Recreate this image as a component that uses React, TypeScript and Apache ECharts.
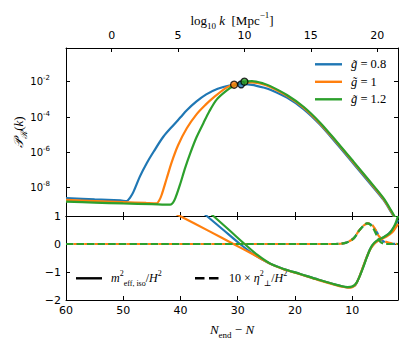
import React, { useEffect, useRef } from 'react';
import * as echarts from 'echarts';

const BLUE = '#1f77b4';
const ORANGE = '#ff7f0e';
const GREEN = '#2ca02c';

// ---- axes ----
const nTicks = [60, 50, 40, 30, 20, 10];
const logKTicks = [0, 5, 10, 15, 20];
const logPTicks = [-8, -6, -4, -2];
const logKAtLeft = -3.44;
const logKAtRight = 21.57;

// ---- top panel: log10 P_R(k) vs N_end - N ----
const nBlueP = [60, 55, 50.5, 49.4, 48.8, 48.2, 47.1, 45.9, 44.7, 43.0, 41.2, 40.0, 38.9, 37.2, 35.5, 33.5, 31.3, 29.5, 27.5, 25.5, 24.3, 21.4, 18.5, 15.6, 12.7, 9.77, 6.85, 4.53, 3.06, 2.4];
const logPBlue = [-8.6, -8.67, -8.73, -8.76, -8.57, -8.23, -7.38, -6.62, -5.97, -5.12, -4.45, -4.02, -3.62, -3.12, -2.72, -2.4, -2.2, -2.12, -2.18, -2.33, -2.45, -2.9, -3.55, -4.44, -5.52, -6.65, -7.78, -8.7, -9.47, -9.85];

const nOrangeP = [60, 55, 50, 46, 44.15, 43.7, 43.3, 42.4, 41.5, 40.4, 38.9, 37.2, 35.6, 34.25, 31.9, 30.6, 29, 27.5, 25.5, 24.3, 21.4, 18.5, 15.6, 12.7, 9.77, 6.85, 4.53, 3.06, 2.4];
const logPOrange = [-8.7, -8.76, -8.82, -8.87, -8.89, -8.72, -8.42, -7.47, -6.53, -5.59, -4.64, -3.85, -3.3, -2.9, -2.32, -2.16, -2.06, -2.04, -2.15, -2.3, -2.8, -3.47, -4.38, -5.45, -6.58, -7.72, -8.65, -9.42, -9.8];

const nGreenP = [60, 55, 50, 45, 41.8, 41.3, 40.9, 40.1, 39.2, 38.3, 37.2, 36.0, 35.0, 33.65, 31.9, 30.5, 29, 27.5, 25.5, 24.3, 21.4, 18.5, 15.6, 12.7, 9.77, 6.85, 4.53, 3.06, 2.4];
const logPGreen = [-8.8, -8.85, -8.9, -8.94, -8.97, -8.85, -8.6, -7.85, -6.9, -6.06, -5.15, -4.35, -3.7, -3.0, -2.49, -2.2, -2.0, -1.97, -2.1, -2.25, -2.75, -3.42, -4.32, -5.4, -6.53, -7.67, -8.6, -9.37, -9.75];

// peak markers
const markerN = [29.4, 30.63, 28.83];
const markerLogP = [-2.15, -2.17, -2.0];

// ---- bottom panel: m_eff,iso^2/H^2 (solid) ----
const nBlueM = [37, 35.4, 32.5, 29.6, 27, 24.5, 22, 19.1, 16, 13.3, 11.8, 10.7, 10.0, 9.4, 8.55, 7.7, 6.8, 5.9, 4.8, 3.6, 2.7, 2.0];
const mBlue = [1.28, 1.0, 0.5, 0.0, -0.4, -0.69, -0.89, -1.07, -1.27, -1.43, -1.51, -1.55, -1.53, -1.45, -1.07, -0.6, -0.15, 0.07, 0.2, 0.37, 0.6, 0.86];
const nOrangeM = [42, 40.1, 35, 30.75, 27.5, 24.3, 22, 19.1, 16, 13.3, 11.8, 10.6, 10.0, 9.5, 8.8, 7.9, 7.0, 6.1, 5.2, 4.0, 3.0, 2.0];
const mOrange = [1.2, 1.0, 0.46, 0.0, -0.35, -0.71, -0.9, -1.08, -1.28, -1.44, -1.52, -1.56, -1.54, -1.48, -1.2, -0.7, -0.25, 0.02, 0.15, 0.27, 0.42, 0.72];
const nGreenM = [36, 34.25, 31.5, 28.8, 26.5, 24.3, 22, 19.1, 16, 13.3, 11.8, 10.8, 10.0, 9.2, 8.3, 7.45, 6.55, 5.7, 4.53, 3.36, 2.5, 2.0];
const mGreen = [1.32, 1.0, 0.5, 0.0, -0.4, -0.7, -0.89, -1.07, -1.27, -1.43, -1.51, -1.54, -1.52, -1.37, -0.95, -0.48, -0.06, 0.12, 0.24, 0.41, 0.71, 1.0];

// ---- bottom panel: 10 x eta_perp^2/H^2 (dashed) ----
const nBlueE = [60, 13, 12, 11, 10, 9.5, 8.9, 8.0, 7.3, 6.8, 6.1, 5.5, 4.9, 4.2, 3.5, 2.0];
const eBlue = [0, 0, 0.01, 0.05, 0.16, 0.26, 0.45, 0.66, 0.74, 0.7, 0.55, 0.35, 0.15, 0.05, 0.01, 0];
const nOrangeE = [60, 13, 12, 11, 10, 9.5, 8.9, 8.0, 7.2, 6.6, 6.0, 5.4, 4.5, 3.5, 2.7, 2.0];
const eOrange = [0, 0, 0.01, 0.05, 0.16, 0.26, 0.45, 0.66, 0.74, 0.7, 0.53, 0.3, 0.12, 0.04, 0.01, 0];
const nGreenE = [60, 13, 12, 11, 10, 9.5, 8.9, 8.0, 7.4, 6.9, 6.3, 5.7, 5.1, 4.5, 4.0, 2.0];
const eGreen = [0, 0, 0.01, 0.05, 0.16, 0.26, 0.45, 0.66, 0.74, 0.7, 0.55, 0.3, 0.08, 0.01, 0, 0];

const legendLabels = ['0.8', '1', '1.2'];
const legendColors = [BLUE, ORANGE, GREEN];

const SANS = '"DejaVu Sans", sans-serif';
const SERIF = '"Liberation Serif", "DejaVu Serif", serif';

const pairs = (xs: number[], ys: number[]) => xs.map((x, i) => [x, ys[i]]);

const tickStyle = { show: true, inside: true, length: 4, lineStyle: { color: '#000', width: 1 } };
const lineAxis = { show: true, onZero: false, lineStyle: { color: '#000', width: 1 } };
const noSplit = { show: false };
const tickFont = { color: '#000', fontFamily: SANS, fontSize: 11 };

function buildOption() {
  const lineSeries = (data: number[][], color: string, xi: number, yi: number, dashed = false, offset = 0) => ({
    type: 'line',
    xAxisIndex: xi,
    yAxisIndex: yi,
    data,
    showSymbol: false,
    smooth: 0.3,
    clip: true,
    lineStyle: dashed
      ? { color, width: 2.2, type: [7.4, 3.2], dashOffset: offset, cap: 'butt' }
      : { color, width: 2.2 },
    silent: true,
  });

  const markerSeries = (i: number, color: string) => ({
    type: 'scatter',
    xAxisIndex: 0,
    yAxisIndex: 0,
    data: [[markerN[i], markerLogP[i]]],
    symbol: 'circle',
    symbolSize: 7,
    itemStyle: { color, borderColor: '#000', borderWidth: 1.3 },
    z: 5,
    silent: true,
  });

  const graphics: any[] = [];
  // g-legend
  legendColors.forEach((c, i) => {
    const y = 64.3 + i * 17.5;
    graphics.push({ type: 'line', shape: { x1: 315, y1: y, x2: 342, y2: y }, style: { stroke: c, lineWidth: 2.4 } });
    graphics.push({
      type: 'text', x: 351, y,
      style: {
        text: `{i|g\u0303}{n| = ${legendLabels[i]}}`,
        align: 'left', verticalAlign: 'middle',
        rich: {
          i: { fontFamily: SERIF, fontSize: 12.5, fontStyle: 'italic', fill: '#000' },
          n: { fontFamily: SERIF, fontSize: 12.5, fill: '#000' },
        },
      },
    });
  });
  // bottom legend
  graphics.push({ type: 'line', shape: { x1: 76, y1: 278.3, x2: 102, y2: 278.3 }, style: { stroke: '#000', lineWidth: 2.4 } });
  graphics.push({ type: 'line', shape: { x1: 195, y1: 278.3, x2: 219, y2: 278.3 }, style: { stroke: '#000', lineWidth: 2.4, lineDash: [9.5, 4.5] } });
  const mathRich = {
    i: { fontFamily: SERIF, fontSize: 12, fontStyle: 'italic', fill: '#000', lineHeight: 18, verticalAlign: 'middle' },
    n: { fontFamily: SERIF, fontSize: 12, fill: '#000', lineHeight: 18, verticalAlign: 'middle' },
    sup: { fontFamily: SERIF, fontSize: 8, fill: '#000', verticalAlign: 'top' },
    sub: { fontFamily: SERIF, fontSize: 8, fill: '#000', verticalAlign: 'bottom' },
  };
  graphics.push({
    type: 'text', x: 111, y: 278.3,
    style: {
      text: '{i|m}{sup|2}{sub|eff, iso}{n|/}{i|H}{sup|2}',
      align: 'left', verticalAlign: 'middle', rich: mathRich,
    },
  });
  graphics.push({
    type: 'text', x: 229, y: 278.3,
    style: {
      text: '{n|10 × }{i|η}{sup|2}{sub|⊥}{n|/}{i|H}{sup|2}',
      align: 'left', verticalAlign: 'middle', rich: mathRich,
    },
  });
  // axis titles
  const titleRich = {
    i: { fontFamily: SERIF, fontSize: 13, fontStyle: 'italic', fill: '#000', lineHeight: 20, verticalAlign: 'middle' },
    n: { fontFamily: SERIF, fontSize: 13, fill: '#000', lineHeight: 20, verticalAlign: 'middle' },
    sup: { fontFamily: SERIF, fontSize: 9, fill: '#000', verticalAlign: 'top' },
    sub: { fontFamily: SERIF, fontSize: 9, fill: '#000', verticalAlign: 'bottom' },
    subi: { fontFamily: SERIF, fontSize: 9, fill: '#000', verticalAlign: 'bottom', fontStyle: 'italic' },
  };
  graphics.push({
    type: 'text', x: 232, y: 20,
    style: { text: '{n|log}{sub|10}{i| k}{n|  [Mpc}{sup|−1}{n|]}', align: 'center', verticalAlign: 'middle', rich: titleRich },
  });
  graphics.push({
    type: 'text', x: 232, y: 329,
    style: { text: '{i|N}{sub|end}{n| − }{i|N}', align: 'center', verticalAlign: 'middle', rich: titleRich },
  });
  graphics.push({
    type: 'text', x: 18, y: 132, rotation: Math.PI / 2,
    style: { text: '{i|𝒫}{subi|ℛ}{n|(}{i|k}{n|)}', align: 'center', verticalAlign: 'middle', rich: titleRich },
  });

  return {
    animation: false,
    backgroundColor: '#fff',
    grid: [
      { left: 66, right: 13, top: 48, height: 168 },
      { left: 66, right: 13, top: 216, height: 84 },
    ],
    xAxis: [
      {
        gridIndex: 0, type: 'value', min: 2, max: 60, inverse: true, position: 'bottom',
        axisLine: lineAxis, axisTick: { ...tickStyle, customValues: nTicks },
        axisLabel: { show: false }, splitLine: noSplit,
      },
      {
        gridIndex: 0, type: 'value', min: logKAtLeft, max: logKAtRight, position: 'top',
        axisLine: lineAxis, axisTick: { ...tickStyle, customValues: logKTicks },
        axisLabel: { ...tickFont, customValues: logKTicks, margin: 7 }, splitLine: noSplit,
      },
      {
        gridIndex: 1, type: 'value', min: 2, max: 60, inverse: true, position: 'bottom',
        axisLine: lineAxis, axisTick: { ...tickStyle, customValues: nTicks },
        axisLabel: { ...tickFont, customValues: nTicks, margin: 5 }, splitLine: noSplit,
      },
      {
        gridIndex: 1, type: 'value', min: 2, max: 60, inverse: true, position: 'top',
        axisLine: lineAxis, axisTick: { ...tickStyle, customValues: nTicks },
        axisLabel: { show: false }, splitLine: noSplit,
      },
    ],
    yAxis: [
      {
        gridIndex: 0, type: 'value', min: -9.61, max: -0.09, position: 'left',
        axisLine: lineAxis, axisTick: { ...tickStyle, customValues: logPTicks },
        axisLabel: {
          customValues: logPTicks, margin: 16,
          formatter: (v: number) => `{b|10}{s|${Math.round(v)}}`,
          rich: {
            b: { fontFamily: SANS, fontSize: 10, color: '#000', lineHeight: 14, verticalAlign: 'middle' },
            s: { fontFamily: SANS, fontSize: 7, color: '#000', verticalAlign: 'top' },
          },
        },
        splitLine: noSplit,
      },
      {
        gridIndex: 0, type: 'value', min: -9.61, max: -0.09, position: 'right',
        axisLine: lineAxis, axisTick: { ...tickStyle, customValues: logPTicks },
        axisLabel: { show: false }, splitLine: noSplit,
      },
      {
        gridIndex: 1, type: 'value', min: -2, max: 1, interval: 1, position: 'left',
        axisLine: lineAxis, axisTick: tickStyle,
        axisLabel: {
          ...tickFont, margin: 5, showMinLabel: true, showMaxLabel: true,
          formatter: (v: number) => (v < 0 ? '\u2212' + Math.abs(v) : String(v)),
        },
        splitLine: noSplit,
      },
      {
        gridIndex: 1, type: 'value', min: -2, max: 1, interval: 1, position: 'right',
        axisLine: lineAxis, axisTick: tickStyle,
        axisLabel: { show: false }, splitLine: noSplit,
      },
    ],
    series: [
      lineSeries(pairs(nBlueP, logPBlue), BLUE, 0, 0),
      lineSeries(pairs(nOrangeP, logPOrange), ORANGE, 0, 0),
      lineSeries(pairs(nGreenP, logPGreen), GREEN, 0, 0),
      markerSeries(0, BLUE),
      markerSeries(1, ORANGE),
      markerSeries(2, GREEN),
      lineSeries(pairs(nBlueM, mBlue), BLUE, 2, 2),
      lineSeries(pairs(nBlueE, eBlue), BLUE, 2, 2, true, 0),
      lineSeries(pairs(nOrangeM, mOrange), ORANGE, 2, 2),
      lineSeries(pairs(nOrangeE, eOrange), ORANGE, 2, 2, true, 3.2),
      lineSeries(pairs(nGreenM, mGreen), GREEN, 2, 2),
      lineSeries(pairs(nGreenE, eGreen), GREEN, 2, 2, true, 0),
    ],
    graphic: graphics,
  };
}

export default function App() {
  const ref = useRef<HTMLDivElement>(null);
  useEffect(() => {
    if (!ref.current) return;
    const chart = echarts.init(ref.current, null, { renderer: 'svg' });
    chart.setOption(buildOption() as any);
    return () => chart.dispose();
  }, []);
  return <div ref={ref} style={{ position: 'fixed', left: 0, top: 0, width: 411, height: 349 }} />;
}
